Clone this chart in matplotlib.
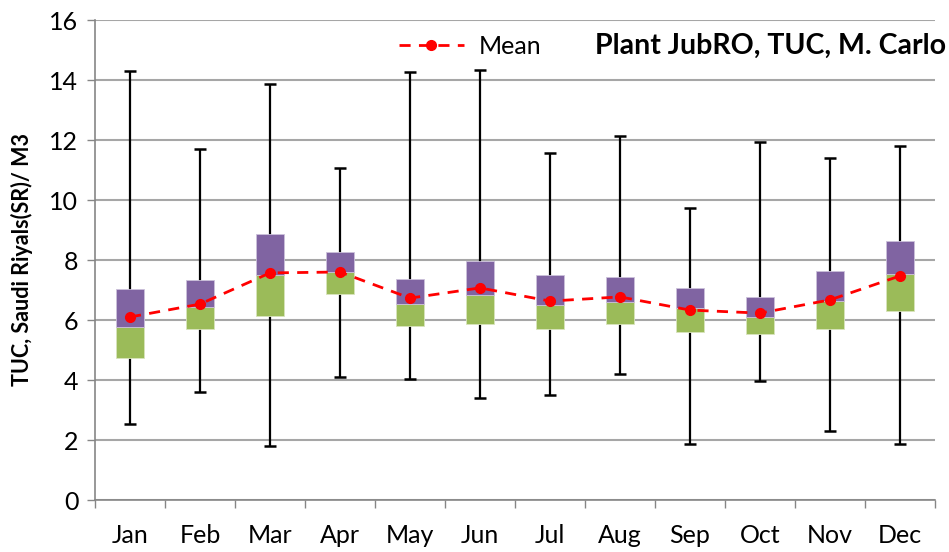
import numpy as np
import matplotlib.pyplot as plt

months = ["Jan", "Feb", "Mar", "Apr", "May", "Jun", "Jul", "Aug", "Sep", "Oct", "Nov", "Dec"]
whisk_lo = [2.53, 3.60, 1.80, 4.10, 4.03, 3.40, 3.50, 4.20, 1.87, 3.97, 2.30, 1.87]
q1 = [4.73, 5.70, 6.13, 6.87, 5.80, 5.87, 5.70, 5.87, 5.60, 5.53, 5.70, 6.30]
median = [5.77, 6.43, 7.50, 7.60, 6.53, 6.83, 6.50, 6.60, 6.40, 6.10, 6.63, 7.53]
q3 = [7.03, 7.33, 8.87, 8.27, 7.37, 7.97, 7.50, 7.43, 7.07, 6.77, 7.63, 8.63]
whisk_hi = [14.30, 11.70, 13.87, 11.07, 14.27, 14.33, 11.57, 12.13, 9.73, 11.93, 11.40, 11.80]
mean = [6.10, 6.53, 7.57, 7.60, 6.73, 7.07, 6.63, 6.77, 6.33, 6.23, 6.67, 7.47]

plt.rcParams['font.family'] = ['Lato', 'DejaVu Sans']

fig = plt.figure(figsize=(9.49, 5.52), dpi=100)
ax = fig.add_axes([95 / 949, 1 - 500 / 552, 840 / 949, 480 / 552])

x = np.arange(len(months))
q1 = np.array(q1)
median = np.array(median)
q3 = np.array(q3)

# whiskers + caps
ax.vlines(x, whisk_lo, whisk_hi, color='black', lw=1.6, zorder=2)
ax.hlines(whisk_lo, x - 0.08, x + 0.08, color='black', lw=1.8, zorder=2)
ax.hlines(whisk_hi, x - 0.08, x + 0.08, color='black', lw=1.8, zorder=2)

# boxes
ax.bar(x, median - q1, bottom=q1, width=0.4, color='#9BBB59', edgecolor='#d8e4bc', lw=0.6, zorder=3)
ax.bar(x, q3 - median, bottom=median, width=0.4, color='#8064A2', edgecolor='#ccc1da', lw=0.6, zorder=3)

# mean line
ax.plot(x, mean, color='#FF0000', ls=(0, (4, 3)), lw=2, marker='o', ms=7, zorder=4, label='Mean')

ax.set_xlim(-0.5, 11.5)
ax.set_ylim(0, 16)
ax.set_yticks(np.arange(0, 17, 2))
ax.set_xticks(x)
ax.set_xticklabels(months)
ax.set_xticks(np.arange(-0.5, 12, 1), minor=True)
ax.tick_params(axis='x', which='major', length=0, pad=17, labelsize=18)
ax.tick_params(axis='x', which='minor', length=6, color='#868686', width=1)
ax.tick_params(axis='y', length=6, color='#868686', width=1, labelsize=18, pad=6)

ax.grid(axis='y', color='#A6A6A6', lw=1.5, zorder=0)
ax.set_axisbelow(True)
for s in ['top', 'right']:
    ax.spines[s].set_visible(False)
for s in ['left', 'bottom']:
    ax.spines[s].set_color('#868686')
    ax.spines[s].set_linewidth(1.2)

ax.set_ylabel("TUC, Saudi Riyals(SR)/ M3", fontsize=15.5, fontweight='bold', labelpad=12)

ax.legend(loc='center left', bbox_to_anchor=(0.347, 0.945), frameon=False, fontsize=18,
          handlelength=2.6, handletextpad=0.6, borderpad=0)
fig.text(0.997, 0.917, "Plant JubRO, TUC, M. Carlo", ha='right', va='center',
         fontsize=20.5, fontweight='bold')

fig.savefig("out.png", dpi=100)
